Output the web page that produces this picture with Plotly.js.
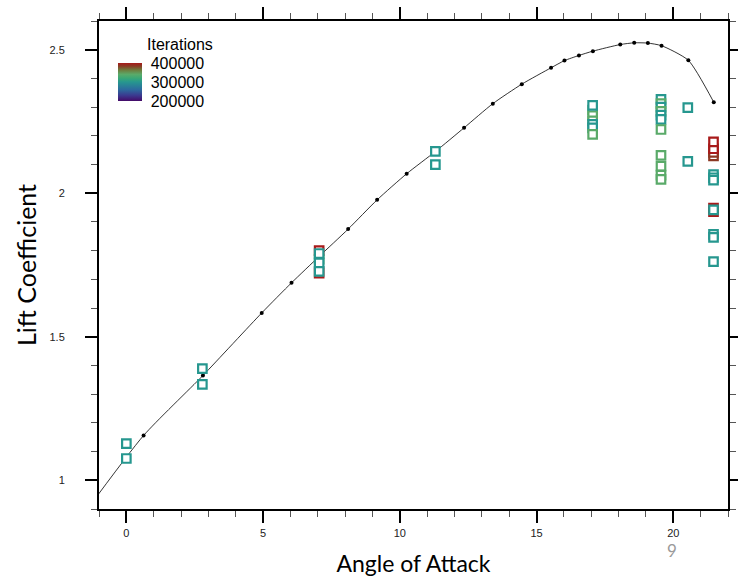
<!DOCTYPE html>
<html>
<head>
<meta charset="utf-8">
<script src="https://cdn.plot.ly/plotly-3.0.1.min.js"></script>
<style>
  html, body { margin: 0; padding: 0; background: #ffffff; }
  #chart { width: 738px; height: 579px; }
</style>
</head>
<body>
<div id="chart"></div>
<script>
// Reference lift curve (angle of attack sweep)
const sweepAlpha = [-1.5, 0.63, 2.8, 4.95, 6.04, 7.04, 8.11, 9.17, 10.25, 11.31, 12.35, 13.40,
                    14.46, 15.53, 16.02, 16.55, 17.06, 18.06, 18.57, 19.07, 19.57, 20.55, 21.48];
const sweepCl = [0.89, 1.156, 1.365, 1.583, 1.688, 1.779, 1.875, 1.977, 2.068, 2.146, 2.228, 2.312,
                 2.380, 2.437, 2.462, 2.480, 2.495, 2.518, 2.524, 2.523, 2.514, 2.463, 2.317];

// Individual runs: angle, lift coefficient and iteration count of each run
const runAlpha = [
  0, 0,
  2.78, 2.78,
  7.05, 7.05, 7.05, 7.05, 7.05, 7.05,
  11.3, 11.3,
  17.05, 17.05, 17.05, 17.05, 17.05, 17.05, 17.05,
  19.55, 19.55, 19.55, 19.55, 19.55, 19.55, 19.55, 19.55, 19.55, 19.55, 19.55,
  20.53, 20.53,
  21.47, 21.47, 21.47, 21.47, 21.47, 21.47, 21.47, 21.47, 21.47, 21.47, 21.47, 21.47, 21.47
];
const runCl = [
  1.128, 1.076,
  1.389, 1.334,
  1.800, 1.770, 1.790, 1.757, 1.722, 1.728,
  2.146, 2.100,
  2.290, 2.270, 2.252, 2.306, 2.240, 2.228, 2.205,
  2.327, 2.312, 2.300, 2.285, 2.272, 2.257, 2.222, 2.132, 2.094, 2.063, 2.048,
  2.298, 2.111,
  2.130, 2.142, 2.155, 2.179, 2.065, 2.054, 2.046, 1.948, 1.936, 1.942, 1.857, 1.846, 1.762
];
const runIter = [
  300000, 300000,
  300000, 300000,
  400000, 340000, 300000, 300000, 400000, 300000,
  300000, 300000,
  340000, 340000, 340000, 300000, 300000, 300000, 340000,
  300000, 340000, 300000, 340000, 300000, 300000, 340000, 340000, 340000, 340000, 340000,
  300000, 300000,
  385000, 385000, 400000, 400000, 300000, 300000, 300000, 400000, 400000, 300000, 300000, 300000, 300000
];

// Colorbar labels
const iterTicks = [200000, 300000, 400000];
const iterLabels = ['200000', '300000', '400000'];

const iterScale = [
  [0.00, '#440a68'],
  [0.15, '#3b3a90'],
  [0.30, '#2c6a9e'],
  [0.50, '#26978f'],
  [0.60, '#3aa775'],
  [0.70, '#5aaa69'],
  [0.82, '#6e7a3c'],
  [0.92, '#8a3a24'],
  [1.00, '#a81a1a']
];

// colorbar placement (paper units) and size (pixels)
const cbX = 0.0302, cbY = 0.874, cbLen = 38.4, cbThick = 24;

const tickFont = { family: 'Liberation Sans, Arial, sans-serif', size: 11, color: '#222' };
const titleFont = { family: 'Lato, "Open Sans", sans-serif', size: 23, color: '#000' };

const traces = [
  {
    // carries the colorbar only
    type: 'scatter', mode: 'markers',
    x: runAlpha, y: runCl,
    hoverinfo: 'skip', showlegend: false,
    marker: {
      size: 1, opacity: 0,
      color: runIter, cmin: 200000, cmax: 400000, colorscale: iterScale,
      showscale: true,
      colorbar: {
        x: cbX, xanchor: 'left', xpad: 0,
        y: cbY, yanchor: 'middle', ypad: 0,
        lenmode: 'pixels', len: cbLen,
        thickness: cbThick, outlinewidth: 0,
        tickmode: 'array', tickvals: iterTicks, ticktext: iterLabels,
        ticks: 'outside', ticklen: 6, tickwidth: 1, tickcolor: 'rgba(0,0,0,0)',
        tickfont: { family: 'Liberation Sans, Arial, sans-serif', size: 16, color: '#000' },
        title: { text: '' }
      }
    }
  },
  {
    type: 'scatter', mode: 'lines+markers',
    x: sweepAlpha, y: sweepCl,
    showlegend: false,
    line: { color: '#000', width: 0.8, shape: 'spline', smoothing: 0.6 },
    marker: { color: '#000', size: 4 }
  },
  {
    type: 'scatter', mode: 'markers',
    x: runAlpha, y: runCl,
    showlegend: false,
    marker: {
      symbol: 'square', size: 8.5, color: '#ffffff',
      line: { width: 2.2, color: runIter, cmin: 200000, cmax: 400000, colorscale: iterScale }
    }
  }
];

// plot-area pixel width, used to express the colorbar thickness in paper units
const plotW = 738 - 99 - 10;

const layout = {
  width: 738, height: 579,
  paper_bgcolor: '#ffffff', plot_bgcolor: '#ffffff',
  margin: { l: 99, r: 10, t: 21, b: 70 },
  showlegend: false,
  xaxis: {
    range: [-1, 22], tick0: 0, dtick: 5,
    ticks: 'outside', ticklen: 12, tickwidth: 2, tickcolor: '#000',
    showline: true, linewidth: 2, linecolor: '#000', mirror: 'allticks',
    showgrid: false, zeroline: false,
    minor: { ticks: 'outside', ticklen: 6, tickwidth: 1, tickcolor: '#555', dtick: 1, tick0: 0, showgrid: false },
    tickfont: tickFont, ticklabelstandoff: 1,
    title: { text: 'Angle of Attack', font: titleFont, standoff: 18 }
  },
  yaxis: {
    range: [0.9, 2.6], tick0: 0, dtick: 0.5,
    ticks: 'outside', ticklen: 12, tickwidth: 2, tickcolor: '#000',
    showline: true, linewidth: 2, linecolor: '#000', mirror: 'allticks',
    showgrid: false, zeroline: false,
    minor: { ticks: 'outside', ticklen: 6, tickwidth: 1, tickcolor: '#555', dtick: 0.1, tick0: 0, showgrid: false },
    tickfont: tickFont, ticklabelstandoff: 18,
    title: { text: 'Lift Coefficient', font: { family: titleFont.family, size: 25, color: '#000' }, standoff: 6 }
  },
  shapes: [
    {
      // mid-scale mark across the colorbar
      type: 'line', xref: 'paper', yref: 'paper', layer: 'above',
      x0: cbX, x1: cbX + cbThick / plotW, y0: cbY, y1: cbY,
      line: { color: '#1b4a4a', width: 1 }
    }
  ],
  annotations: [
    {
      text: 'Iterations', xref: 'paper', yref: 'paper', x: 0.1288, y: 0.951,
      xanchor: 'center', yanchor: 'middle', showarrow: false,
      font: { family: 'Liberation Sans, Arial, sans-serif', size: 16, color: '#000' }
    },
    {
      text: '9', xref: 'paper', yref: 'paper', x: 0.911, y: -0.086,
      xanchor: 'center', yanchor: 'middle', showarrow: false,
      font: { family: 'Lato, sans-serif', size: 17, color: '#9a9a9a' }
    }
  ]
};

Plotly.newPlot('chart', traces, layout, { displayModeBar: false, staticPlot: true });
</script>
</body>
</html>
